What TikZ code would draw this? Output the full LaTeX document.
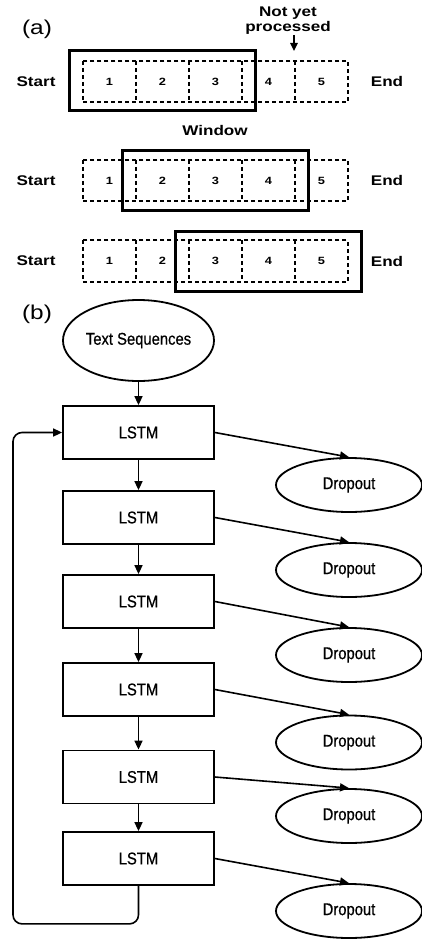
\documentclass[tikz,border=0pt]{standalone}
\usepackage{fontspec}
\usetikzlibrary{shapes.geometric,arrows.meta}
\newfontfamily\widefont[FakeStretch=1.22]{Liberation Sans}
\newfontfamily\narrowfont[FakeStretch=0.87,FakeBold=0.6]{Liberation Sans}
\tikzset{
  cell/.style={minimum width=53pt, minimum height=41pt, inner sep=0pt,
    font=\widefont\bfseries\fontsize{10.5}{11}\selectfont},
  dashline/.style={dash pattern=on 4pt off 3pt, line width=1.7pt},
  window/.style={draw, line width=3pt, minimum width=186pt, minimum height=60pt, inner sep=0pt},
  sidelabel/.style={font=\widefont\bfseries\fontsize{14}{15}\selectfont, inner sep=0pt},
  panel/.style={font=\widefont\fontsize{20}{22}\selectfont, inner sep=0pt},
  lstm/.style={draw, line width=1.8pt, minimum width=151pt, minimum height=53pt, inner sep=0pt,
    font=\narrowfont\fontsize{17}{18}\selectfont},
  oval/.style={draw, ellipse, line width=1.8pt, inner sep=0pt,
    font=\narrowfont\fontsize{17}{18}\selectfont},
  flow/.style={line width=1.6pt, -{Triangle[length=9pt,width=8pt]}},
}
\begin{document}
\begin{tikzpicture}[x=1pt, y=-1pt]
\useasboundingbox (0,0) rectangle (422,939);
\fill[white] (0,0) rectangle (422,939);

% ---- (a) sliding window ----
\node[panel] (pa) at (37,29) {(a)};

\foreach \r/\y in {1/81.5, 2/180.5, 3/261} {
  \node[sidelabel] (start\r) at (36,\y) {Start};
  \node[sidelabel] (end\r) at (387,\y) {End};
  \foreach \c in {1,...,5} {
    \node[cell] (c\r\c) at ({56.5+53*\c},\y) {\c};
  }
  % dashed outline of the row and the dividers between its cells
  \draw[dashline] (c\r1.north west) rectangle (c\r5.south east);
  \foreach \c in {1,...,4} {
    \draw[dashline] (c\r\c.north east) -- (c\r\c.south east);
  }
}

\node[window] (w1) at (162,81) {};
\node[window] (w2) at (215,180.5) {};
\node[window] (w3) at (268.5,261.5) {};

\node[sidelabel, align=center] (nyp) at (288,21) {Not yet\\processed};
\coordinate (ptr) at (294,51);
\draw[line width=1.6pt, -{Triangle[length=8pt,width=7.5pt]}] (nyp.south -| ptr) -- (ptr);

\node[sidelabel] (win) at (215,130) {Window};

% ---- (b) LSTM stack ----
\node[panel] (pb) at (37,314) {(b)};
\node[oval, minimum width=151pt, minimum height=81pt] (ts) at (138.5,340.5) {Text Sequences};

\foreach \i/\y in {1/432.5, 2/517.5, 3/601.5, 4/689.5, 5/777, 6/858.5} {
  \node[lstm] (l\i) at (138.5,\y) {LSTM};
}
\foreach \i/\y in {1/485, 2/570, 3/655, 4/742.5, 5/816, 6/911} {
  \node[oval, minimum width=146pt, minimum height=54pt] (d\i) at (349,\y) {Dropout};
}

\draw[flow] (ts) -- (l1);
\foreach \i/\j in {1/2, 2/3, 3/4, 4/5, 5/6} {
  \draw[flow] (l\i) -- (l\j);
}
\foreach \i in {1,...,6} {
  \draw[flow] (l\i.east) -- (d\i.north);
}

% feedback loop from the last layer back to the first
\draw[flow, rounded corners=9pt] (l6.south) -- ++(0,38) -| (13,432.5) -- (l1.west);
\end{tikzpicture}
\end{document}
